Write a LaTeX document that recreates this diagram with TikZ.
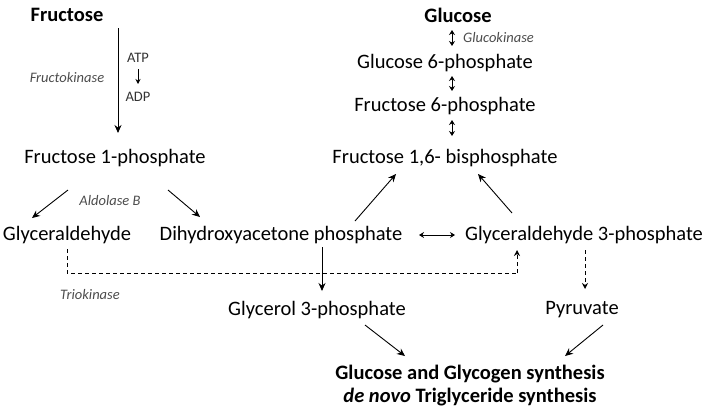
\documentclass[tikz,border=0pt]{standalone}
\usepackage{fontspec}
\setmainfont{Carlito}
\usetikzlibrary{arrows.meta}
\begin{document}
\begin{tikzpicture}[x=1pt,y=-1pt,
    met/.style={font=\fontsize{20.5}{24}\selectfont,inner sep=1pt},
    enz/.style={font=\fontsize{14.5}{16}\selectfont\itshape,text=black!70,inner sep=1pt},
    sml/.style={font=\fontsize{14.5}{16}\selectfont,text=black!80,inner sep=1pt},
    rx/.style={-{Stealth[length=8pt,width=7pt]},line width=0.9pt},
    rev/.style={{Stealth[length=5pt,width=6pt]}-{Stealth[length=5pt,width=6pt]},line width=1pt},
    dsh/.style={dash pattern=on 4pt off 3pt,line width=0.9pt}]
    \useasboundingbox (0,0) rectangle (708,413);
    % fructose branch
    \node[met,font=\fontsize{20.5}{24}\selectfont\bfseries] (fru) at (67,15) {Fructose};
    \node[sml] (atp) at (138,58) {ATP};
    \node[sml] (adp) at (138,97) {ADP};
    \node[enz] (fk) at (67,78) {Fructokinase};
    \node[met] (f1p) at (115,158) {Fructose 1-phosphate};
    \node[enz] (ald) at (110,201) {Aldolase B};
    \node[met] (gla) at (67,235) {Glyceraldehyde};
    \node[met] (dhap) at (281,235) {Dihydroxyacetone phosphate};
    \node[met] (g3p) at (584,235) {Glyceraldehyde 3-phosphate};
    \node[enz] (tk) at (90,295) {Triokinase};
    \node[met] (gol) at (317,310) {Glycerol 3-phosphate};
    \node[met] (pyr) at (582,310) {Pyruvate};
    \node[met,font=\fontsize{20.5}{23}\selectfont\bfseries,align=center] (syn) at (470,386)
        {Glucose and Glycogen synthesis\\\textit{de novo} Triglyceride synthesis};
    % glucose branch
    \node[met,font=\fontsize{20.5}{24}\selectfont\bfseries] (glc) at (458,15) {Glucose};
    \node[enz,anchor=west] (gk) at (462,38) {Glucokinase};
    \node[met] (g6p) at (445,63) {Glucose 6-phosphate};
    \node[met] (f6p) at (445,106) {Fructose 6-phosphate};
    \node[met] (fbp) at (445,158) {Fructose 1,6- bisphosphate};
    % coordinates
    \coordinate (c1) at (118,28);
    \coordinate (c2) at (118,133);
    \coordinate (d1) at (67,273);
    \coordinate (d2) at (517,273);
    % arrows
    \draw[rx] (c1) -- (c2);
    \draw[line width=0.8pt,-{Stealth[length=5pt,width=5pt]}] (138,69) -- (138,84);
    \draw[rx] (68,190) -- (32,218);
    \draw[rx] (168,190) -- (200,217);
    \draw[rev] (419,235) -- (455,235);
    \draw[dsh] (67,249) -- (d1) -- (d2);
    \draw[dsh,-{Stealth[length=6pt,width=6pt]}] (d2) -- (517,250);
    \draw[rx] (322,247) -- (322,291);
    \draw[dsh,-{Stealth[length=6pt,width=6pt]}] (585,250) -- (585,289);
    \draw[rx] (365,325) -- (405,356);
    \draw[rx] (603,325) -- (565,356);
    \draw[rx] (355,221) -- (396,174);
    \draw[rx] (512,213) -- (478,174);
    \draw[rev] (452,30) -- (452,46);
    \draw[rev] (452,76) -- (452,91);
    \draw[rev] (452,120) -- (452,136);
\end{tikzpicture}
\end{document}
